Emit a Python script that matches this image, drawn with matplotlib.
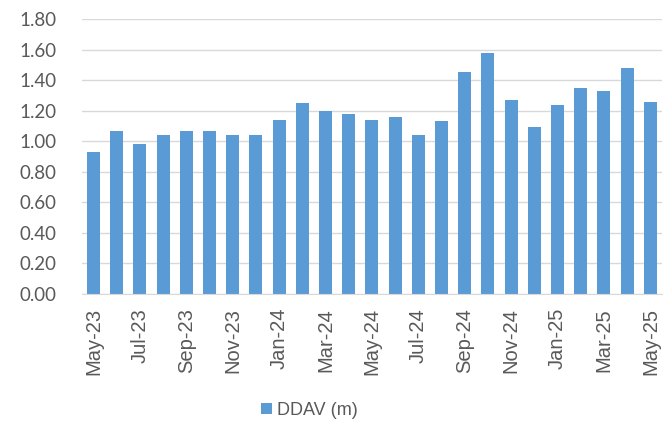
import matplotlib
matplotlib.use("Agg")
from matplotlib import pyplot as plt
import numpy as np

# monthly DDAV values, May-23 .. May-25
months = ["May-23", "Jun-23", "Jul-23", "Aug-23", "Sep-23", "Oct-23", "Nov-23", "Dec-23",
          "Jan-24", "Feb-24", "Mar-24", "Apr-24", "May-24", "Jun-24", "Jul-24", "Aug-24",
          "Sep-24", "Oct-24", "Nov-24", "Dec-24", "Jan-25", "Feb-25", "Mar-25", "Apr-25",
          "May-25"]
ddav = [0.93, 1.07, 0.98, 1.04, 1.07, 1.07, 1.04, 1.04,
        1.14, 1.25, 1.20, 1.18, 1.14, 1.16, 1.04, 1.13,
        1.45, 1.58, 1.27, 1.09, 1.24, 1.35, 1.33, 1.48,
        1.26]
y_ticks = [0.0, 0.2, 0.4, 0.6, 0.8, 1.0, 1.2, 1.4, 1.6, 1.8]

bar_color = "#5B9BD5"
grid_color = "#D9D9D9"
text_color = "#595959"

fig = plt.figure(figsize=(6.66, 4.32), dpi=100)
ax = fig.add_axes([0.123, 0.3194, 0.871, 0.6366])

x = np.arange(len(months))
ax.bar(x, ddav, width=0.56, color=bar_color, label="DDAV (m)", zorder=3)

ax.set_xlim(-0.5, len(months) - 0.5)
ax.set_ylim(0, 1.8)
ax.set_yticks(y_ticks)
ax.set_yticklabels(["%.2f" % v for v in y_ticks], fontfamily="Lato",
                   fontsize=13.5, color=text_color)
ax.yaxis.grid(True, color=grid_color, linewidth=1, zorder=0)
ax.tick_params(axis="y", length=0, pad=18)

ax.set_xticks(x[::2])
ax.set_xticklabels(months[::2], rotation=90, fontfamily="Liberation Sans",
                   fontsize=14.5, color=text_color)
ax.tick_params(axis="x", length=0, pad=10)

for s in ["left", "right", "top"]:
    ax.spines[s].set_visible(False)
ax.spines["bottom"].set_color(grid_color)
ax.spines["bottom"].set_zorder(4)

leg = fig.legend(loc="center", bbox_to_anchor=(0.465, 0.05), frameon=False,
                 handlelength=0.6, handleheight=0.6, handletextpad=0.3,
                 prop={"family": "Liberation Sans", "size": 13})
for t in leg.get_texts():
    t.set_color(text_color)

plt.savefig("out.png", dpi=100)
